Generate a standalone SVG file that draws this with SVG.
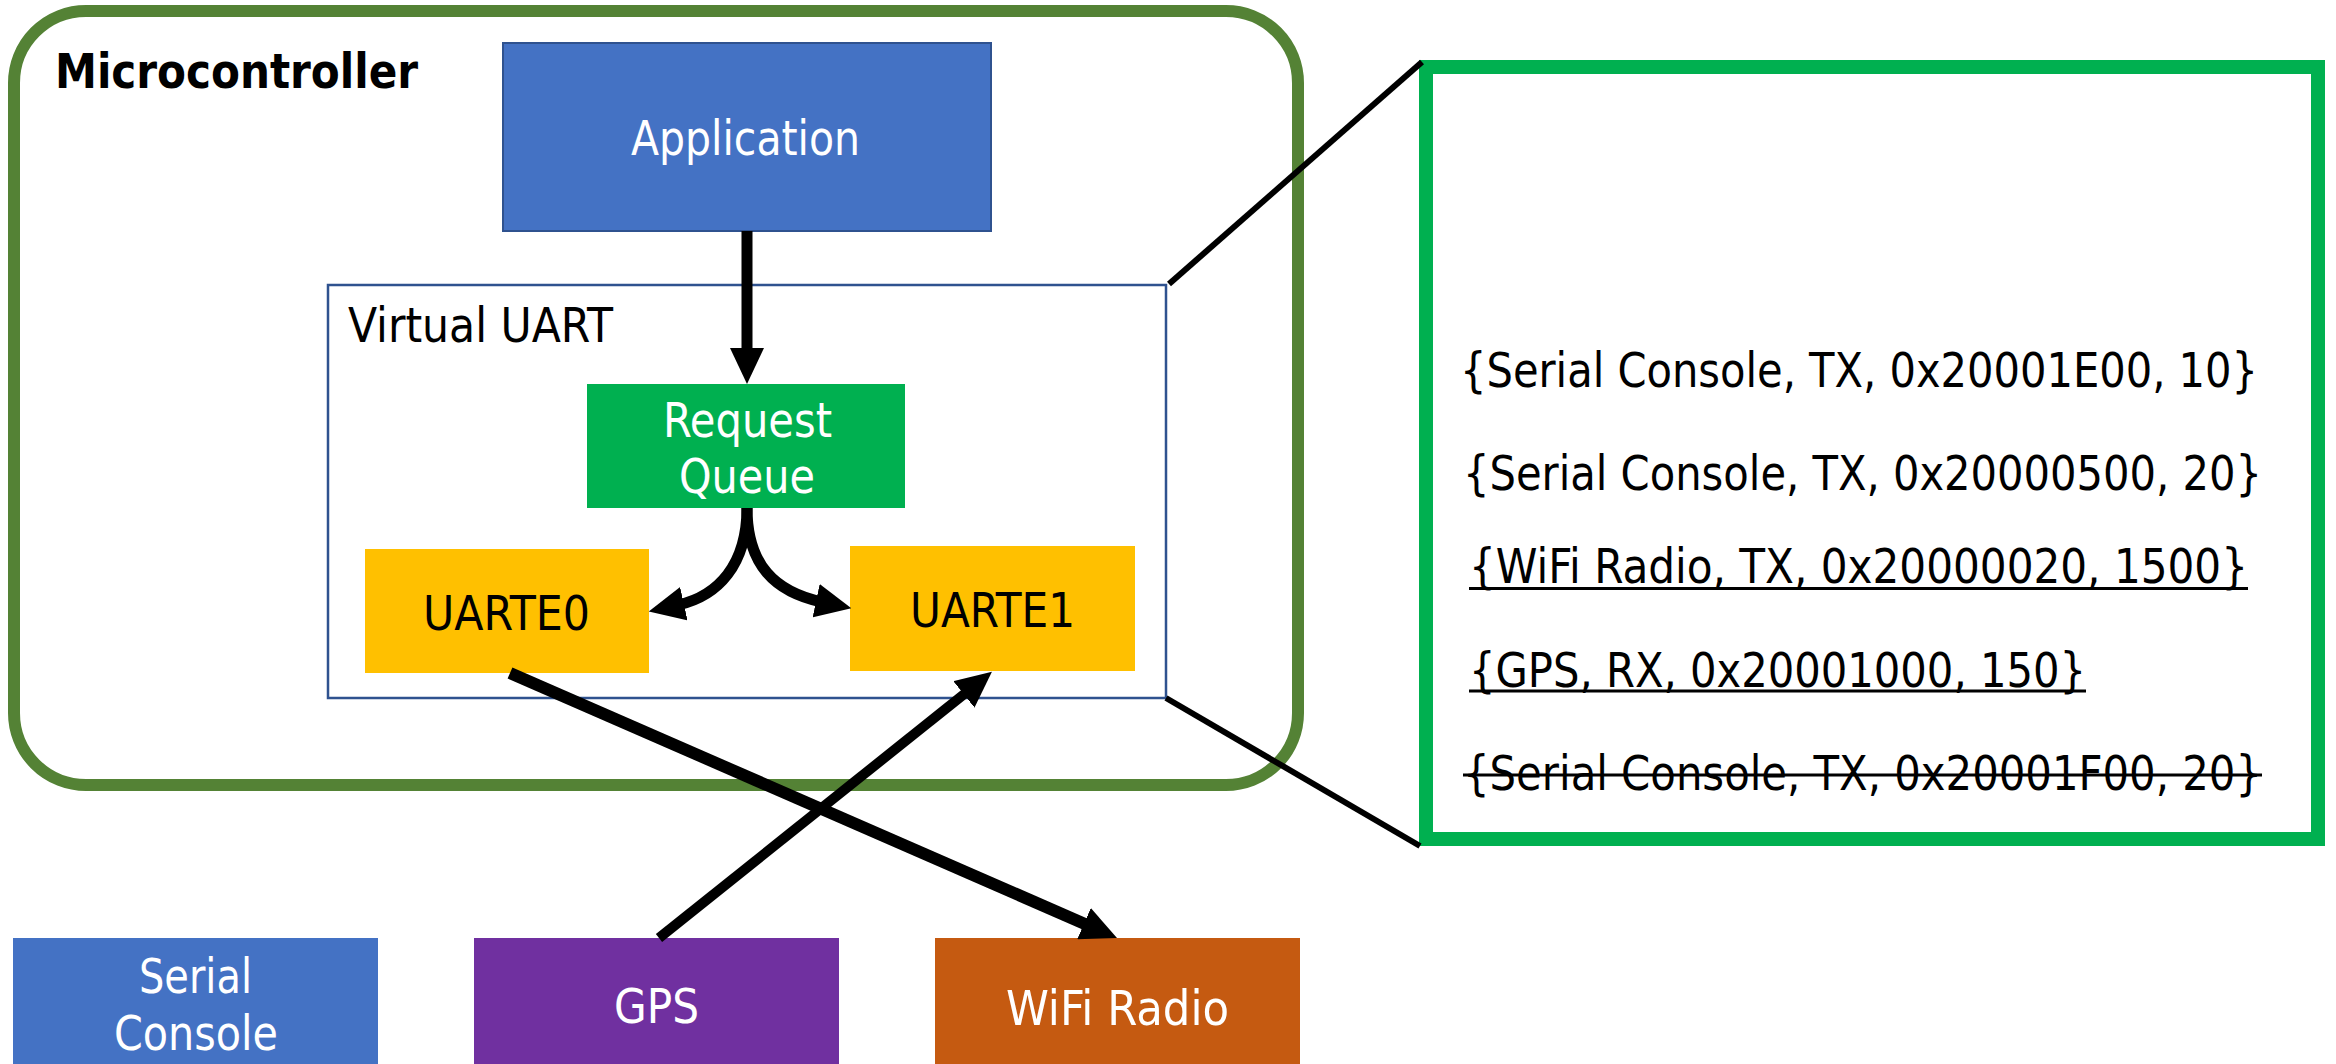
<svg xmlns="http://www.w3.org/2000/svg" width="2336" height="1064" viewBox="0 0 2336 1064">
<style>
text { font-family: "DejaVu Sans Condensed", "DejaVu Sans", "Liberation Sans", sans-serif; font-stretch: condensed; }
.lbl { font-size: 48px; fill: #000; }
.wlbl { font-size: 48px; fill: #fff; text-anchor: middle; }
.blbl { font-size: 48px; fill: #000; text-anchor: middle; }
.conn { fill: none; stroke: #000; }
.zoom { stroke: #000; stroke-width: 6; fill: none; }
.deco { stroke: #000; stroke-width: 3; }
</style>
<defs>
<marker id="ah" viewBox="0 0 36 34" refX="6" refY="17" markerWidth="36" markerHeight="34" orient="auto" markerUnits="userSpaceOnUse">
<path d="M0,0 L36,17 L0,34 Z" fill="#000"/>
</marker>
</defs>
<rect width="2336" height="1064" fill="#fff"/>

<g id="microcontroller">
<rect x="14" y="11" width="1284" height="774" rx="72" ry="72" fill="none" stroke="#548235" stroke-width="12"/>
<text x="55" y="88" font-size="48" font-weight="bold" textLength="363" lengthAdjust="spacingAndGlyphs">Microcontroller</text>
</g>

<g id="application">
<rect x="503" y="43" width="488" height="188" fill="#4472C4" stroke="#2F528F" stroke-width="2"/>
<text class="wlbl" x="745.5" y="155" textLength="229" lengthAdjust="spacingAndGlyphs">Application</text>
</g>

<g id="virtual-uart">
<rect x="328" y="285" width="838" height="413" fill="#fff" stroke="#2F528F" stroke-width="2.5"/>
<text class="lbl" x="348" y="342" textLength="265" lengthAdjust="spacingAndGlyphs">Virtual UART</text>
</g>

<g id="request-queue">
<rect x="587" y="384" width="318" height="124" fill="#00B050"/>
<text class="wlbl" x="747.5" y="437" textLength="169" lengthAdjust="spacingAndGlyphs">Request</text>
<text class="wlbl" x="747" y="493" textLength="136" lengthAdjust="spacingAndGlyphs">Queue</text>
</g>

<g id="uarte0">
<rect x="365" y="549" width="284" height="124" fill="#FFC000"/>
<text class="blbl" x="506.5" y="630" textLength="167" lengthAdjust="spacingAndGlyphs">UARTE0</text>
</g>

<g id="uarte1">
<rect x="850" y="546" width="285" height="125" fill="#FFC000"/>
<text class="blbl" x="992.5" y="627" textLength="165" lengthAdjust="spacingAndGlyphs">UARTE1</text>
</g>

<g id="serial-console">
<rect x="13" y="938" width="365" height="140" fill="#4472C4"/>
<text class="wlbl" x="195.5" y="993" textLength="113" lengthAdjust="spacingAndGlyphs">Serial</text>
<text class="wlbl" x="196" y="1050" textLength="164" lengthAdjust="spacingAndGlyphs">Console</text>
</g>

<g id="gps">
<rect x="474" y="938" width="365" height="140" fill="#7030A0"/>
<text class="wlbl" x="656.5" y="1023" textLength="85" lengthAdjust="spacingAndGlyphs">GPS</text>
</g>

<g id="wifi-radio">
<rect x="935" y="938" width="365" height="140" fill="#C55A11"/>
<text class="wlbl" x="1117.5" y="1025" textLength="223" lengthAdjust="spacingAndGlyphs">WiFi Radio</text>
</g>

<g id="request-list">
<rect x="1426" y="67" width="892" height="772" fill="#fff" stroke="#00B050" stroke-width="14"/>
<text class="lbl" x="1460" y="387" textLength="798" lengthAdjust="spacingAndGlyphs">{Serial Console, TX, 0x20001E00, 10}</text>
<text class="lbl" x="1463" y="490" textLength="799" lengthAdjust="spacingAndGlyphs">{Serial Console, TX, 0x20000500, 20}</text>
<text class="lbl" x="1469" y="583" textLength="779" lengthAdjust="spacingAndGlyphs">{WiFi Radio, TX, 0x20000020, 1500}</text>
<line class="deco" x1="1469" y1="588.5" x2="2248" y2="588.5"/>
<text class="lbl" x="1469" y="687" textLength="617" lengthAdjust="spacingAndGlyphs">{GPS, RX, 0x20001000, 150}</text>
<line class="deco" x1="1469" y1="691" x2="2086" y2="691"/>
<text class="lbl" x="1463" y="790" textLength="799" lengthAdjust="spacingAndGlyphs">{Serial Console, TX, 0x20001F00, 20}</text>
<line class="deco" x1="1463" y1="775" x2="2262" y2="775"/>
</g>

<g id="connectors">
<line class="zoom" x1="1169" y1="284" x2="1422" y2="62"/>
<line class="zoom" x1="1166" y1="698" x2="1420" y2="846"/>
<path class="conn" stroke-width="11" d="M747,231 L747,354" marker-end="url(#ah)"/>
<path class="conn" stroke-width="11" d="M747,508 C747,565 718,596 678,605" marker-end="url(#ah)"/>
<path class="conn" stroke-width="11" d="M747,508 C747,565 775,592 822,602" marker-end="url(#ah)"/>
<path class="conn" stroke-width="12" d="M510,673 L1089.5,926" marker-end="url(#ah)"/>
<path class="conn" stroke-width="10" d="M659,938 L968.5,690.6" marker-end="url(#ah)"/>
</g>
</svg>
